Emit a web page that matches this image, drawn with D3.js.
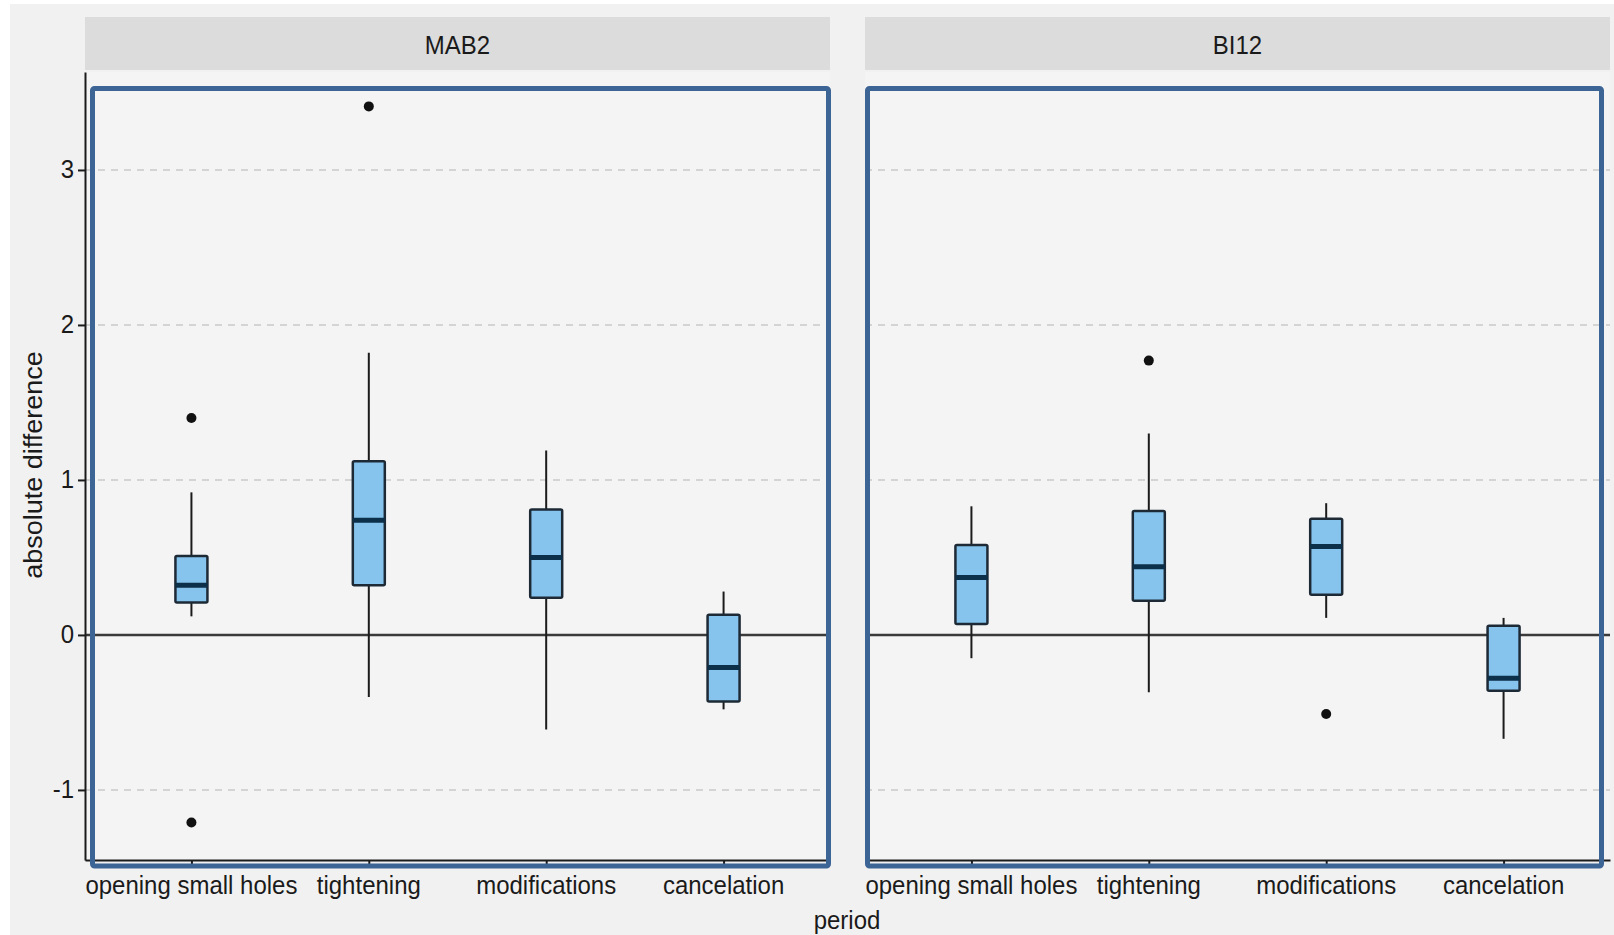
<!DOCTYPE html>
<html>
<head>
<meta charset="utf-8">
<script src="https://cdn.jsdelivr.net/npm/d3@7"></script>
<style>
  html, body { margin: 0; padding: 0; background: #ffffff; }
  svg text { font-family: "Liberation Sans", Arial, sans-serif; fill: #1a1a1a; }
</style>
</head>
<body>
<div id="chart"></div>
<script>
const categories = ["opening small holes", "tightening", "modifications", "cancelation"];
const panels = ["MAB2", "BI12"];
const yTicks = [-1, 0, 1, 2, 3];

const mab2Lower = [0.12, -0.40, -0.61, -0.48];
const mab2Q1 = [0.21, 0.32, 0.24, -0.43];
const mab2Median = [0.32, 0.74, 0.50, -0.21];
const mab2Q3 = [0.51, 1.12, 0.81, 0.13];
const mab2Upper = [0.92, 1.82, 1.19, 0.28];
const mab2Outliers = [[1.40, -1.21], [3.41], [], []];

const bi12Lower = [-0.15, -0.37, 0.11, -0.67];
const bi12Q1 = [0.07, 0.22, 0.26, -0.36];
const bi12Median = [0.37, 0.44, 0.57, -0.28];
const bi12Q3 = [0.58, 0.80, 0.75, 0.06];
const bi12Upper = [0.83, 1.30, 0.85, 0.11];
const bi12Outliers = [[], [1.77], [-0.51], []];

const W = 1614, H = 935;
const plotTop = 72, plotBottom = 860;
const panelX = [[85, 830], [865, 1610]];

// build box rows per panel
function rows(lo, q1, med, q3, hi, outs) {
  return categories.map((c, i) => ({ cat: c, lo: lo[i], q1: q1[i], med: med[i], q3: q3[i], hi: hi[i], outs: outs[i] }));
}
const panelData = [
  rows(mab2Lower, mab2Q1, mab2Median, mab2Q3, mab2Upper, mab2Outliers),
  rows(bi12Lower, bi12Q1, bi12Median, bi12Q3, bi12Upper, bi12Outliers)
];

const svg = d3.select('#chart').append('svg')
  .attr('width', W).attr('height', H);

svg.append('rect').attr('x', 10).attr('y', 4).attr('width', W - 10).attr('height', H - 4)
  .attr('fill', '#f1f1f1');

const y = d3.scaleLinear().domain([-1.452, 3.632]).range([plotBottom, plotTop]);

function stretchText(g, x, yy, txt, anchor, size) {
  return g.append('text')
    .attr('transform', `translate(${x},${yy}) scale(1,1.1)`)
    .attr('text-anchor', anchor)
    .style('font-size', size + 'px')
    .text(txt);
}

const boxW = 32;

panels.forEach((name, p) => {
  const [x0, x1] = panelX[p];
  const x = d3.scalePoint().domain(categories).range([x0, x1]).padding(0.6);
  const g = svg.append('g');

  // strip
  g.append('rect').attr('x', x0).attr('y', 17).attr('width', x1 - x0).attr('height', 53)
    .attr('fill', '#dcdcdc');
  stretchText(g, (x0 + x1) / 2, 54, name, 'middle', 24);

  // panel background
  g.append('rect').attr('x', x0).attr('y', plotTop).attr('width', x1 - x0).attr('height', plotBottom - plotTop)
    .attr('fill', '#f4f4f4');

  // dashed grid
  g.selectAll('.grid').data(yTicks.filter(t => t !== 0)).enter().append('line')
    .attr('x1', x0).attr('x2', x1)
    .attr('y1', d => y(d)).attr('y2', d => y(d))
    .attr('stroke', '#c9c9c9').attr('stroke-width', 1.5).attr('stroke-dasharray', '7,6');

  // zero reference line
  g.append('line').attr('x1', x0).attr('x2', x1).attr('y1', y(0)).attr('y2', y(0))
    .attr('stroke', '#3a3a3a').attr('stroke-width', 2.5);

  // whiskers, boxes, medians, outliers
  const boxes = g.selectAll('.box').data(panelData[p]).enter().append('g');
  boxes.append('line')
    .attr('x1', d => x(d.cat)).attr('x2', d => x(d.cat))
    .attr('y1', d => y(d.hi)).attr('y2', d => y(d.lo))
    .attr('stroke', '#1b1b1b').attr('stroke-width', 2);
  boxes.append('rect')
    .attr('x', d => x(d.cat) - boxW / 2).attr('width', boxW)
    .attr('y', d => y(d.q3)).attr('height', d => y(d.q1) - y(d.q3))
    .attr('fill', '#86c4ee').attr('stroke', '#1d2a36').attr('stroke-width', 2.5)
    .attr('rx', 1.5);
  boxes.append('line')
    .attr('x1', d => x(d.cat) - boxW / 2).attr('x2', d => x(d.cat) + boxW / 2)
    .attr('y1', d => y(d.med)).attr('y2', d => y(d.med))
    .attr('stroke', '#0c2f4a').attr('stroke-width', 5);
  boxes.selectAll('circle').data(d => d.outs.map(v => ({ cat: d.cat, v }))).enter().append('circle')
    .attr('cx', d => x(d.cat)).attr('cy', d => y(d.v)).attr('r', 5)
    .attr('fill', '#111');

  // x axis
  const xa = g.append('g').attr('transform', `translate(0,${plotBottom})`)
    .call(d3.axisBottom(x).tickSize(7).tickSizeOuter(0).tickFormat(''));
  xa.select('.domain').attr('stroke', '#1b1b1b').attr('stroke-width', 2);
  xa.selectAll('.tick line').attr('stroke', '#1b1b1b').attr('stroke-width', 2);
  categories.forEach(c => stretchText(g, x(c), 894, c, 'middle', 24));

  // y axis on first panel
  if (p === 0) {
    const ya = g.append('g').attr('transform', `translate(${x0},0)`)
      .call(d3.axisLeft(y).tickValues(yTicks).tickSize(7).tickSizeOuter(0).tickFormat(''));
    ya.select('.domain').attr('stroke', '#1b1b1b').attr('stroke-width', 2);
    ya.selectAll('.tick line').attr('stroke', '#1b1b1b').attr('stroke-width', 2);
    yTicks.forEach(t => stretchText(g, 74, y(t) + 8, String(t), 'end', 24));
  }
});

// highlight frames around each panel
const frames = [[92.5, 88.5, 828.5, 866], [867.5, 88.5, 1601.5, 866]];
svg.selectAll('.frame').data(frames).enter().append('rect')
  .attr('x', d => d[0]).attr('y', d => d[1])
  .attr('width', d => d[2] - d[0]).attr('height', d => d[3] - d[1])
  .attr('fill', 'none').attr('stroke', '#3c6495').attr('stroke-width', 5).attr('rx', 2);

// axis titles
stretchText(svg, 847, 929, 'period', 'middle', 24);
svg.append('text')
  .attr('transform', 'translate(42,465) rotate(-90) scale(1.08,1)')
  .attr('text-anchor', 'middle')
  .style('font-size', '25px')
  .text('absolute difference');
</script>
</body>
</html>
